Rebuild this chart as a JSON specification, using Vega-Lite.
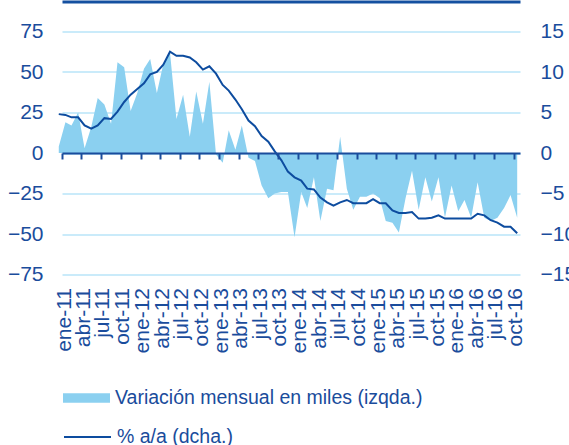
{
  "$schema": "https://vega.github.io/schema/vega-lite/v6.json",
  "width": 458,
  "height": 243,
  "autosize": "none",
  "padding": {"left": 62, "top": 31.5, "right": 49, "bottom": 170.5},
  "background": "white",
  "config": {
    "view": {"stroke": null},
    "font": "Liberation Sans",
    "axis": {"labelFont": "Liberation Sans", "labelColor": "#1A4C9C", "title": null},
    "legend": {"labelFont": "Liberation Sans", "labelColor": "#1A4C9C"}
  },
  "data": {
    "values": [
      {"fecha": "2011-01-01", "variacion": 4, "tasa": 4.8},
      {"fecha": "2011-02-01", "variacion": 19, "tasa": 4.7},
      {"fecha": "2011-03-01", "variacion": 17, "tasa": 4.4},
      {"fecha": "2011-04-01", "variacion": 25, "tasa": 4.4},
      {"fecha": "2011-05-01", "variacion": 3, "tasa": 3.4},
      {"fecha": "2011-06-01", "variacion": 16, "tasa": 3.0},
      {"fecha": "2011-07-01", "variacion": 34, "tasa": 3.4},
      {"fecha": "2011-08-01", "variacion": 30, "tasa": 4.3},
      {"fecha": "2011-09-01", "variacion": 18, "tasa": 4.2},
      {"fecha": "2011-10-01", "variacion": 56, "tasa": 5.1},
      {"fecha": "2011-11-01", "variacion": 53, "tasa": 6.3},
      {"fecha": "2011-12-01", "variacion": 26, "tasa": 7.2},
      {"fecha": "2012-01-01", "variacion": 37, "tasa": 7.9},
      {"fecha": "2012-02-01", "variacion": 52, "tasa": 8.6},
      {"fecha": "2012-03-01", "variacion": 58, "tasa": 9.7},
      {"fecha": "2012-04-01", "variacion": 37, "tasa": 10.0},
      {"fecha": "2012-05-01", "variacion": 55, "tasa": 10.9},
      {"fecha": "2012-06-01", "variacion": 62, "tasa": 12.5},
      {"fecha": "2012-07-01", "variacion": 21, "tasa": 12.0},
      {"fecha": "2012-08-01", "variacion": 36, "tasa": 12.0},
      {"fecha": "2012-09-01", "variacion": 10, "tasa": 11.8},
      {"fecha": "2012-10-01", "variacion": 38, "tasa": 11.2},
      {"fecha": "2012-11-01", "variacion": 18, "tasa": 10.3},
      {"fecha": "2012-12-01", "variacion": 44, "tasa": 10.7},
      {"fecha": "2013-01-01", "variacion": -1, "tasa": 9.8},
      {"fecha": "2013-02-01", "variacion": -6, "tasa": 8.4},
      {"fecha": "2013-03-01", "variacion": 14, "tasa": 7.7},
      {"fecha": "2013-04-01", "variacion": 2, "tasa": 6.6},
      {"fecha": "2013-05-01", "variacion": 17, "tasa": 5.4},
      {"fecha": "2013-06-01", "variacion": -3, "tasa": 4.0},
      {"fecha": "2013-07-01", "variacion": -5, "tasa": 3.3},
      {"fecha": "2013-08-01", "variacion": -20, "tasa": 2.1},
      {"fecha": "2013-09-01", "variacion": -28, "tasa": 1.4},
      {"fecha": "2013-10-01", "variacion": -25, "tasa": 0.2},
      {"fecha": "2013-11-01", "variacion": -24, "tasa": -0.9},
      {"fecha": "2013-12-01", "variacion": -24, "tasa": -2.3},
      {"fecha": "2014-01-01", "variacion": -52, "tasa": -3.0},
      {"fecha": "2014-02-01", "variacion": -24, "tasa": -3.4},
      {"fecha": "2014-03-01", "variacion": -34, "tasa": -4.4},
      {"fecha": "2014-04-01", "variacion": -15, "tasa": -4.5},
      {"fecha": "2014-05-01", "variacion": -42, "tasa": -5.5},
      {"fecha": "2014-06-01", "variacion": -22, "tasa": -6.1},
      {"fecha": "2014-07-01", "variacion": -23, "tasa": -6.5},
      {"fecha": "2014-08-01", "variacion": 10, "tasa": -6.1},
      {"fecha": "2014-09-01", "variacion": -22, "tasa": -5.8},
      {"fecha": "2014-10-01", "variacion": -35, "tasa": -6.2},
      {"fecha": "2014-11-01", "variacion": -27, "tasa": -6.2},
      {"fecha": "2014-12-01", "variacion": -27, "tasa": -6.2},
      {"fecha": "2015-01-01", "variacion": -25, "tasa": -5.7},
      {"fecha": "2015-02-01", "variacion": -28, "tasa": -6.2},
      {"fecha": "2015-03-01", "variacion": -42, "tasa": -6.2},
      {"fecha": "2015-04-01", "variacion": -43, "tasa": -7.1},
      {"fecha": "2015-05-01", "variacion": -49, "tasa": -7.4},
      {"fecha": "2015-06-01", "variacion": -28, "tasa": -7.4},
      {"fecha": "2015-07-01", "variacion": -11, "tasa": -7.3},
      {"fecha": "2015-08-01", "variacion": -35, "tasa": -8.1},
      {"fecha": "2015-09-01", "variacion": -15, "tasa": -8.1},
      {"fecha": "2015-10-01", "variacion": -30, "tasa": -8.0},
      {"fecha": "2015-11-01", "variacion": -15, "tasa": -7.7},
      {"fecha": "2015-12-01", "variacion": -40, "tasa": -8.1},
      {"fecha": "2016-01-01", "variacion": -20, "tasa": -8.1},
      {"fecha": "2016-02-01", "variacion": -36, "tasa": -8.1},
      {"fecha": "2016-03-01", "variacion": -29, "tasa": -8.1},
      {"fecha": "2016-04-01", "variacion": -40, "tasa": -8.1},
      {"fecha": "2016-05-01", "variacion": -18, "tasa": -7.5},
      {"fecha": "2016-06-01", "variacion": -40, "tasa": -7.7},
      {"fecha": "2016-07-01", "variacion": -42, "tasa": -8.3},
      {"fecha": "2016-08-01", "variacion": -40, "tasa": -8.6},
      {"fecha": "2016-09-01", "variacion": -34, "tasa": -9.1},
      {"fecha": "2016-10-01", "variacion": -26, "tasa": -9.1},
      {"fecha": "2016-11-01", "variacion": -40, "tasa": -9.9}
    ]
  },
  "layer": [
    {
      "mark": {"type": "area", "color": "#8BD0F0"},
      "encoding": {
        "x": {
          "field": "fecha",
          "type": "temporal",
          "scale": {
            "type": "utc",
            "nice": false,
            "domain": [
              {"year": 2011, "month": 1, "date": 16, "utc": true},
              {"year": 2016, "month": 11, "date": 14, "utc": true}
            ]
          },
          "axis": {
            "orient": "bottom",
            "domain": false,
            "ticks": false,
            "grid": false,
            "labelAngle": 270,
            "labelFontSize": 21,
            "labelPadding": 13,
            "labelOverlap": false,
            "labelFlush": false,
            "labelOffset": 2,
            "values": [
              {"year": 2011, "month": 1, "date": 16, "utc": true},
              {"year": 2011, "month": 4, "date": 16, "utc": true},
              {"year": 2011, "month": 7, "date": 16, "utc": true},
              {"year": 2011, "month": 10, "date": 16, "utc": true},
              {"year": 2012, "month": 1, "date": 16, "utc": true},
              {"year": 2012, "month": 4, "date": 16, "utc": true},
              {"year": 2012, "month": 7, "date": 16, "utc": true},
              {"year": 2012, "month": 10, "date": 16, "utc": true},
              {"year": 2013, "month": 1, "date": 16, "utc": true},
              {"year": 2013, "month": 4, "date": 16, "utc": true},
              {"year": 2013, "month": 7, "date": 16, "utc": true},
              {"year": 2013, "month": 10, "date": 16, "utc": true},
              {"year": 2014, "month": 1, "date": 16, "utc": true},
              {"year": 2014, "month": 4, "date": 16, "utc": true},
              {"year": 2014, "month": 7, "date": 16, "utc": true},
              {"year": 2014, "month": 10, "date": 16, "utc": true},
              {"year": 2015, "month": 1, "date": 16, "utc": true},
              {"year": 2015, "month": 4, "date": 16, "utc": true},
              {"year": 2015, "month": 7, "date": 16, "utc": true},
              {"year": 2015, "month": 10, "date": 16, "utc": true},
              {"year": 2016, "month": 1, "date": 16, "utc": true},
              {"year": 2016, "month": 4, "date": 16, "utc": true},
              {"year": 2016, "month": 7, "date": 16, "utc": true},
              {"year": 2016, "month": 10, "date": 16, "utc": true}
            ],
            "labelExpr": "['ene','feb','mar','abr','may','jun','jul','ago','sep','oct','nov','dic'][utcmonth(datum.value)] + '-' + utcFormat(datum.value, '%y')"
          }
        },
        "y": {
          "field": "variacion",
          "type": "quantitative",
          "scale": {"domain": [-75, 75], "nice": false},
          "axis": {
            "orient": "left",
            "values": [-75, -50, -25, 0, 25, 50, 75],
            "domain": false,
            "ticks": false,
            "grid": true,
            "gridColor": "#B9E4F8",
            "gridWidth": 1.5,
            "labelFontSize": 21,
            "labelPadding": 19
          }
        },
        "fill": {
          "datum": "Variación mensual en miles (izqda.)",
          "scale": {"range": ["#8BD0F0"]},
          "legend": {
            "orient": "none",
            "legendX": 1,
            "legendY": 343,
            "padding": 0,
            "symbolType": "M-1,-0.2H1V0.2H-1Z",
            "symbolSize": 2209,
            "symbolStrokeWidth": 0,
            "labelFontSize": 19.5,
            "labelOffset": 5,
            "labelLimit": 500,
            "title": null
          }
        }
      }
    },
    {
      "mark": {"type": "line", "color": "#0D4C9F", "strokeWidth": 2},
      "encoding": {
        "x": {
          "field": "fecha",
          "type": "temporal",
          "axis": {
            "orient": "bottom",
            "offset": -121.5,
            "zindex": 1,
            "domain": true,
            "domainColor": "#1A4C9C",
            "domainWidth": 2,
            "ticks": true,
            "tickColor": "#1A4C9C",
            "tickWidth": 2,
            "tickSize": 6,
            "labels": false,
            "grid": false,
            "values": [
              {"year": 2011, "month": 1, "date": 16, "utc": true},
              {"year": 2011, "month": 4, "date": 16, "utc": true},
              {"year": 2011, "month": 7, "date": 16, "utc": true},
              {"year": 2011, "month": 10, "date": 16, "utc": true},
              {"year": 2012, "month": 1, "date": 16, "utc": true},
              {"year": 2012, "month": 4, "date": 16, "utc": true},
              {"year": 2012, "month": 7, "date": 16, "utc": true},
              {"year": 2012, "month": 10, "date": 16, "utc": true},
              {"year": 2013, "month": 1, "date": 16, "utc": true},
              {"year": 2013, "month": 4, "date": 16, "utc": true},
              {"year": 2013, "month": 7, "date": 16, "utc": true},
              {"year": 2013, "month": 10, "date": 16, "utc": true},
              {"year": 2014, "month": 1, "date": 16, "utc": true},
              {"year": 2014, "month": 4, "date": 16, "utc": true},
              {"year": 2014, "month": 7, "date": 16, "utc": true},
              {"year": 2014, "month": 10, "date": 16, "utc": true},
              {"year": 2015, "month": 1, "date": 16, "utc": true},
              {"year": 2015, "month": 4, "date": 16, "utc": true},
              {"year": 2015, "month": 7, "date": 16, "utc": true},
              {"year": 2015, "month": 10, "date": 16, "utc": true},
              {"year": 2016, "month": 1, "date": 16, "utc": true},
              {"year": 2016, "month": 4, "date": 16, "utc": true},
              {"year": 2016, "month": 7, "date": 16, "utc": true},
              {"year": 2016, "month": 10, "date": 16, "utc": true}
            ]
          }
        },
        "y": {
          "field": "tasa",
          "type": "quantitative",
          "scale": {"domain": [-15, 15], "nice": false},
          "axis": {
            "orient": "right",
            "values": [-15, -10, -5, 0, 5, 10, 15],
            "domain": false,
            "ticks": false,
            "grid": false,
            "labelFontSize": 21,
            "labelPadding": 20
          }
        },
        "stroke": {
          "datum": "% a/a (dcha.)",
          "scale": {"range": ["#0D4C9F"]},
          "legend": {
            "orient": "none",
            "legendX": 1,
            "legendY": 381,
            "padding": 0,
            "symbolType": "stroke",
            "symbolSize": 2209,
            "symbolStrokeWidth": 2,
            "labelFontSize": 19.5,
            "labelOffset": 5,
            "labelLimit": 500,
            "title": null
          }
        }
      }
    },
    {
      "mark": {"type": "line", "opacity": 0},
      "encoding": {
        "x": {
          "field": "fecha",
          "type": "temporal",
          "axis": {
            "orient": "top",
            "offset": 30,
            "domain": true,
            "domainColor": "#1450A0",
            "domainWidth": 3,
            "ticks": false,
            "labels": false,
            "grid": false
          }
        },
        "y": {"field": "tasa", "type": "quantitative", "axis": null}
      }
    }
  ],
  "resolve": {
    "scale": {"y": "independent"},
    "axis": {"x": "independent", "y": "independent"}
  }
}
